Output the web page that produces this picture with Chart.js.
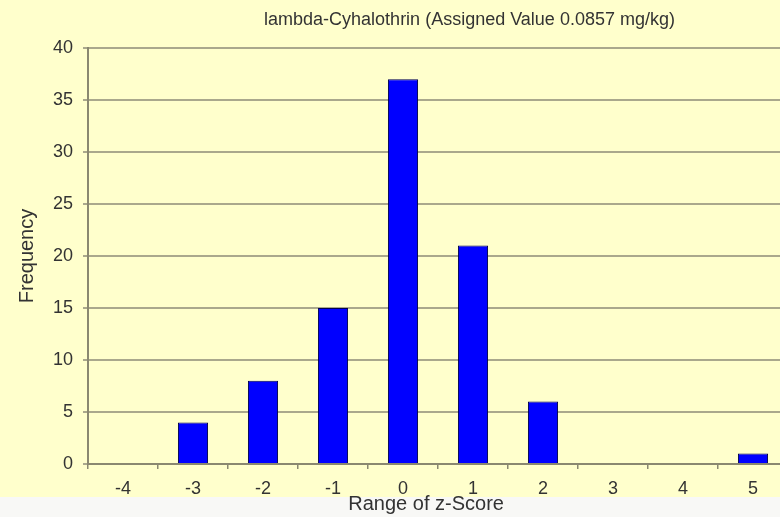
<!DOCTYPE html>
<html>
<head>
<meta charset="utf-8">
<script src="https://cdn.jsdelivr.net/npm/chart.js@4/dist/chart.umd.min.js"></script>
<style>
  html, body { margin: 0; padding: 0; overflow: hidden; background: #f8f8f6; width: 780px; height: 517px; }
  #c { display: block; }
</style>
</head>
<body>
<canvas id="c" width="800" height="517"></canvas>
<script>
const chartTitle = 'lambda-Cyhalothrin (Assigned Value 0.0857 mg/kg)';
const xTitle = 'Range of z-Score';
const yTitle = 'Frequency';
const categories = ['-4', '-3', '-2', '-1', '0', '1', '2', '3', '4', '5'];
const frequency = [0, 4, 8, 15, 37, 21, 6, 0, 0, 1];
const yMin = 0, yMax = 40, yStep = 5;

const FONT = '"Liberation Sans", Arial, sans-serif';
const AXIS = '#8a8870';
const GRID = '#aaa88c';
const TEXT = '#333333';

const bgPlugin = {
  id: 'bg',
  beforeDraw(chart) {
    const ctx = chart.ctx;
    ctx.save();
    ctx.fillStyle = '#f8f8f6';
    ctx.fillRect(0, 0, chart.width, chart.height);
    ctx.fillStyle = '#ffffcc';
    ctx.fillRect(0, 0, chart.width, 497);
    ctx.restore();
  }
};

const titlesPlugin = {
  id: 'titles',
  afterDraw(chart) {
    const ctx = chart.ctx;
    const a = chart.chartArea;
    ctx.save();
    ctx.fillStyle = TEXT;
    ctx.textAlign = 'center';
    ctx.textBaseline = 'middle';
    ctx.font = '18px ' + FONT;
    ctx.fillText(chartTitle, a.left + (a.right - a.left) * 0.545, 20);
    ctx.font = '20px ' + FONT;
    ctx.fillText(xTitle, a.left + (a.right - a.left) * 0.483, 504);
    ctx.restore();
  }
};

new Chart(document.getElementById('c'), {
  type: 'bar',
  data: {
    labels: categories,
    datasets: [{
      data: frequency,
      backgroundColor: '#0000ff',
      borderColor: '#000050',
      borderWidth: 1,
      categoryPercentage: 1,
      barPercentage: 0.43
    }]
  },
  options: {
    responsive: false,
    animation: false,
    layout: { padding: { left: 0, right: 12, top: 48, bottom: 0 } },
    plugins: { legend: { display: false }, tooltip: { enabled: false }, title: { display: false } },
    scales: {
      x: {
        afterFit(s) { s.height = 53; },
        grid: { drawOnChartArea: false, drawTicks: true, tickLength: 5, color: AXIS, lineWidth: 1.5, offset: true },
        border: { display: true, color: AXIS, width: 2 },
        ticks: { color: TEXT, font: { family: FONT, size: 18 }, padding: 9, maxRotation: 0 }
      },
      y: {
        min: yMin, max: yMax,
        afterFit(s) { s.width = 88; },
        grid: { color: GRID, lineWidth: 2, tickLength: 5, drawTicks: true },
        border: { display: true, color: AXIS, width: 2 },
        ticks: { stepSize: yStep, color: TEXT, font: { family: FONT, size: 18 }, padding: 10 },
        title: { display: true, text: yTitle, color: TEXT, font: { family: FONT, size: 20 }, padding: { top: 15, bottom: 0 } }
      }
    }
  },
  plugins: [bgPlugin, titlesPlugin]
});
</script>
</body>
</html>
